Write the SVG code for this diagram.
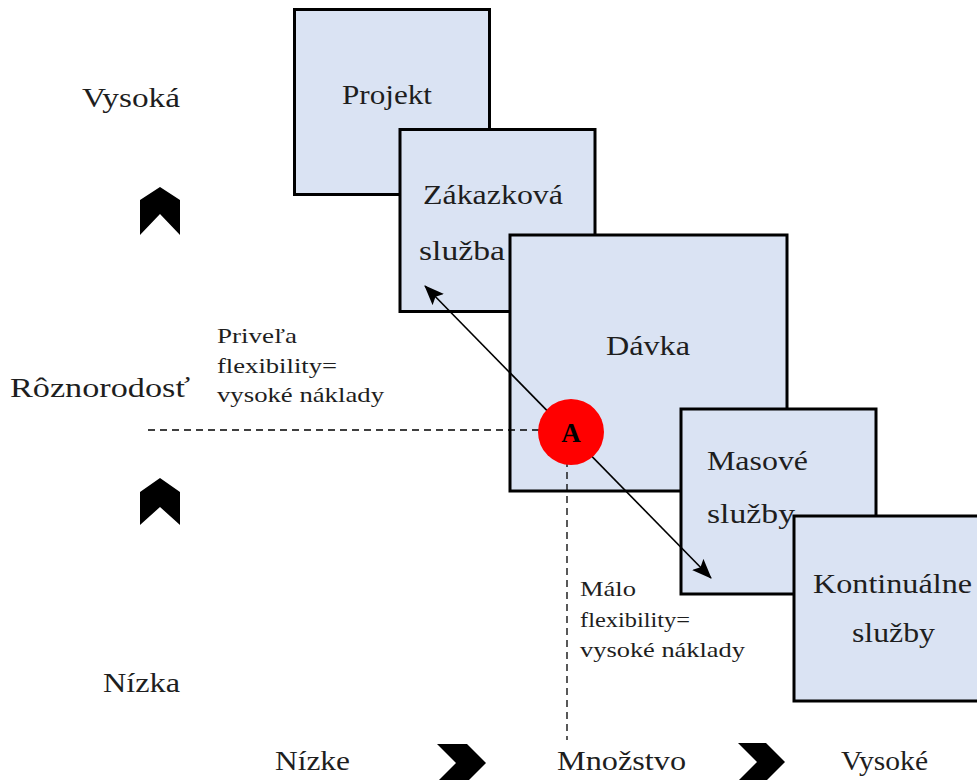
<svg xmlns="http://www.w3.org/2000/svg" width="977" height="780" viewBox="0 0 977 780">
  <defs>
    <style>
      .box { fill: #dae3f3; stroke: #000; stroke-width: 3; }
      .lbl { font-family: "Liberation Serif", "Times New Roman", serif; font-size: 27px; fill: #1e1e1e; }
      .sm { font-family: "Liberation Serif", "Times New Roman", serif; font-size: 22px; fill: #1e1e1e; }
      .chev { fill: #000; }
      .dash { stroke: #000; stroke-width: 1.3; stroke-dasharray: 7 5; fill: none; }
      .link { stroke: #000; stroke-width: 1.6; fill: none; }
    </style>
    <marker id="head" viewBox="0 0 20 16" refX="19" refY="8" markerWidth="20" markerHeight="16" markerUnits="userSpaceOnUse" orient="auto-start-reverse">
      <path d="M0,0 L20,8 L0,16 L4,8 Z" fill="#000"/>
    </marker>
  </defs>
  <rect width="977" height="780" fill="#fff"/>

  <!-- axis labels -->
  <g id="axis-labels">
    <text class="lbl" x="82" y="107" textLength="98" lengthAdjust="spacingAndGlyphs">Vysoká</text>
    <text class="lbl" x="10" y="397" textLength="180" lengthAdjust="spacingAndGlyphs">Rôznorodosť</text>
    <text class="lbl" x="103" y="692" textLength="77" lengthAdjust="spacingAndGlyphs">Nízka</text>
    <text class="lbl" x="275" y="770" textLength="75" lengthAdjust="spacingAndGlyphs">Nízke</text>
    <text class="lbl" x="557" y="770" textLength="129" lengthAdjust="spacingAndGlyphs">Množstvo</text>
    <text class="lbl" x="841" y="770" textLength="87" lengthAdjust="spacingAndGlyphs">Vysoké</text>
  </g>

  <!-- chevrons -->
  <g id="chevrons">
    <polygon class="chev" points="140,200 160,187 180,200 180,235 160,214 140,235"/>
    <polygon class="chev" points="140,492 160,478 180,492 180,525 160,507 140,525"/>
    <polygon class="chev" points="437,744 467,744 486,763 467,782 437,782 456,763"/>
    <polygon class="chev" points="738,743 766,743 785,762 766,781 738,781 757,762"/>
  </g>

  <!-- process boxes, back to front -->
  <g id="projekt">
    <rect class="box" x="294.5" y="9.5" width="195" height="185"/>
    <text class="lbl" x="342" y="104" textLength="90" lengthAdjust="spacingAndGlyphs">Projekt</text>
  </g>
  <g id="zakazkova">
    <rect class="box" x="400" y="129.5" width="195" height="182"/>
    <text class="lbl" x="423" y="204" textLength="140" lengthAdjust="spacingAndGlyphs">Zákazková</text>
    <text class="lbl" x="419" y="260" textLength="86" lengthAdjust="spacingAndGlyphs">služba</text>
  </g>
  <g id="davka">
    <rect class="box" x="510" y="235" width="277" height="256"/>
    <text class="lbl" x="606" y="355" textLength="84" lengthAdjust="spacingAndGlyphs">Dávka</text>
  </g>
  <g id="masove">
    <rect class="box" x="681" y="409" width="195" height="185"/>
    <text class="lbl" x="707" y="470" textLength="101" lengthAdjust="spacingAndGlyphs">Masové</text>
    <text class="lbl" x="707" y="523" textLength="88" lengthAdjust="spacingAndGlyphs">služby</text>
  </g>
  <g id="kontinualne">
    <rect class="box" x="794" y="516" width="200" height="185"/>
    <text class="lbl" x="813" y="593" textLength="159" lengthAdjust="spacingAndGlyphs">Kontinuálne</text>
    <text class="lbl" x="852" y="642" textLength="83" lengthAdjust="spacingAndGlyphs">služby</text>
  </g>

  <!-- annotations -->
  <g id="note-high">
    <text class="sm" x="217" y="343" textLength="80" lengthAdjust="spacingAndGlyphs">Priveľa</text>
    <text class="sm" x="217" y="373" textLength="120" lengthAdjust="spacingAndGlyphs">flexibility=</text>
    <text class="sm" x="217" y="402" textLength="167" lengthAdjust="spacingAndGlyphs">vysoké náklady</text>
  </g>
  <g id="note-low">
    <text class="sm" x="580" y="596" textLength="56" lengthAdjust="spacingAndGlyphs">Málo</text>
    <text class="sm" x="580" y="627" textLength="110" lengthAdjust="spacingAndGlyphs">flexibility=</text>
    <text class="sm" x="580" y="657" textLength="165" lengthAdjust="spacingAndGlyphs">vysoké náklady</text>
  </g>

  <!-- connectors -->
  <g id="connectors">
    <line class="dash" x1="148" y1="430" x2="545" y2="430"/>
    <line class="dash" x1="567" y1="460" x2="567" y2="740"/>
    <line class="link" x1="425" y1="286" x2="711" y2="578" marker-start="url(#head)" marker-end="url(#head)"/>
  </g>

  <!-- operating point -->
  <g id="point-a">
    <circle cx="571" cy="432" r="33" fill="#ff0000"/>
    <text x="571" y="442" text-anchor="middle" font-family="Liberation Serif, Times New Roman, serif" font-size="27" font-weight="bold" fill="#000">A</text>
  </g>
</svg>
